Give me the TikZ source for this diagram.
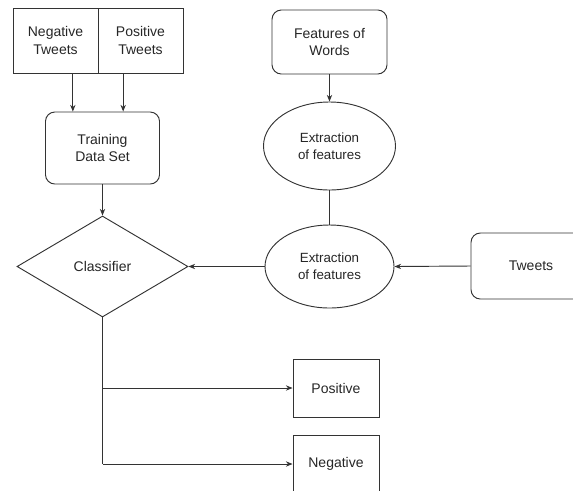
\documentclass[tikz,border=0pt]{standalone}
\usepackage{fontspec}
\setmainfont{Liberation Sans}
\usetikzlibrary{shapes.geometric,arrows.meta}
\begin{document}
\begin{tikzpicture}
[
    x=0.75pt, y=-0.75pt,
    line width=0.7pt, draw=black!80,
    every node/.style={font=\fontsize{10.5}{13}\selectfont, align=center, text=black!85, inner sep=0pt},
    box/.style={draw, rectangle},
    roundbox/.style={draw, rectangle, rounded corners=7pt},
    oval/.style={draw, ellipse},
    decision/.style={draw, diamond},
    flow/.style={-{Stealth[length=5pt,width=4pt]}}
]
    \path[use as bounding box, clip] (0,0) rectangle (573,490);

    \node [box, minimum width=63.75pt, minimum height=48.75pt] (neg) at (55.5,40.5) {Negative\\Tweets};
    \node [box, minimum width=63.75pt, minimum height=48.75pt] (pos) at (140.5,40.5) {Positive\\Tweets};
    \node [roundbox, minimum width=85.5pt, minimum height=54pt] (train) at (102.5,148) {Training\\Data Set};
    \node [decision, minimum width=128.25pt, minimum height=75.75pt] (cls) at (102.5,266.5) {Classifier};

    \node [roundbox, minimum width=86.25pt, minimum height=48pt] (feat) at (329.5,42) {Features of\\Words};
    \node [oval, minimum width=99pt, minimum height=66pt, font=\fontsize{10}{12.5}\selectfont] (ext1) at (329.5,146) {Extraction\\of features};
    \node [oval, minimum width=96.75pt, minimum height=62.25pt, font=\fontsize{10}{12.5}\selectfont] (ext2) at (329.5,266.5) {Extraction\\of features};
    \node [roundbox, minimum width=90pt, minimum height=49.5pt] (tweets) at (531,266) {Tweets};

    \node [box, minimum width=64.5pt, minimum height=43.5pt] (positive) at (336,388) {Positive};
    \node [box, minimum width=64.5pt, minimum height=43.5pt] (negative) at (336,464) {Negative};

    \path ([xshift=13pt]neg.south) coordinate (n1)
          ([xshift=-13pt]pos.south) coordinate (p1);
    \coordinate (bend) at (102.5,464);

    \draw [flow] (n1) -- (n1 |- train.north);
    \draw [flow] (p1) -- (p1 |- train.north);
    \draw [flow] (train.south) -- (cls.north);
    \draw [flow] (feat.south) -- (ext1.north);
    \draw (ext1.south) -- (ext2.north);
    \draw [flow] (ext2.west) -- (cls.east);
    \draw [flow] (tweets.west) -- (ext2.east);
    \draw (cls.south) -- (bend);
    \draw [flow] (cls.south |- positive.west) -- (positive.west);
    \draw [flow] (bend) -- (negative.west);
\end{tikzpicture}
\end{document}
